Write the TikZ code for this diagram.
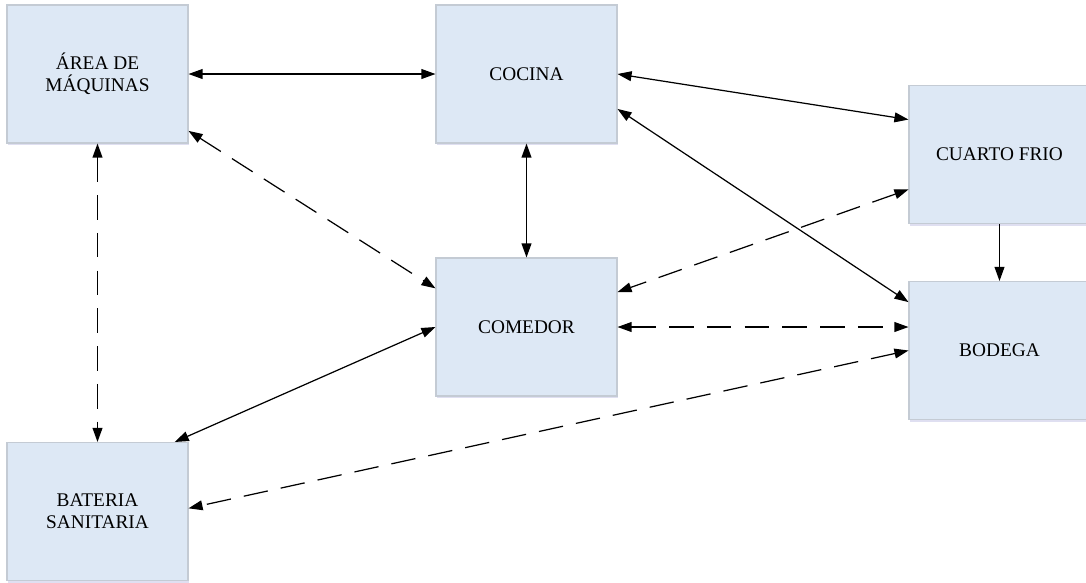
\documentclass[tikz,border=0pt]{standalone}
\usepackage{fontspec}
\setmainfont{Liberation Serif}
\usetikzlibrary{arrows.meta,shadows}

\definecolor{roomfill}{RGB}{221,232,245}
\definecolor{roomline}{RGB}{196,203,212}

\begin{document}
\begin{tikzpicture}
[
	room/.style={rectangle,draw=roomline,fill=roomfill,line width=0.6pt,
		minimum width=3.62cm,minimum height=2.76cm,inner sep=2pt,align=center,
		font=\fontsize{11}{12.5}\selectfont,
		drop shadow={shadow xshift=0.4pt,shadow yshift=-1.2pt,opacity=0.18,fill=blue!40!gray}},
	link/.style={line width=0.7pt,{Triangle[length=8pt,width=5.6pt]}-{Triangle[length=8pt,width=5.6pt]}},
	dlink/.style={link,dash pattern=on 14pt off 7.5pt},
	x=0.02cm,
	y=-0.02cm
]

	\useasboundingbox (0,0) rectangle (1086,582);

	% rooms
	\node[room] (area)    at (97.5,74)    {ÁREA DE\\MÁQUINAS};
	\node[room] (cocina)  at (526.5,74)   {COCINA};
	\node[room] (cuarto)  at (999.5,154.5) {CUARTO FRIO};
	\node[room] (comedor) at (526.5,327)  {COMEDOR};
	\node[room] (bodega)  at (999.5,350.5) {BODEGA};
	\node[room] (bateria) at (97.5,511.5) {BATERIA\\SANITARIA};

	% solid links
	\draw[link] (area.east) -- (cocina.west);
	\draw[link] (cocina.south) -- (comedor.north);
	\draw[link] (cocina.east) -- (cuarto.159);
	\draw[link] (cocina.-21) -- (bodega.152);
	\draw[link] (comedor.west) -- (bateria.42);
	\draw[line width=0.7pt,-{Triangle[length=8pt,width=5.6pt]}] (cuarto.south) -- (bodega.north);

	% dashed links
	\draw[dlink] (area.south) -- (bateria.north);
	\draw[dlink] (area.-32) -- (comedor.157);
	\draw[dlink] (cuarto.201) -- (comedor.21);
	\draw[dlink] (comedor.east) -- (comedor.east -| bodega.west);
	\draw[dlink] (bodega.west) -- (bateria.2);

\end{tikzpicture}
\end{document}
